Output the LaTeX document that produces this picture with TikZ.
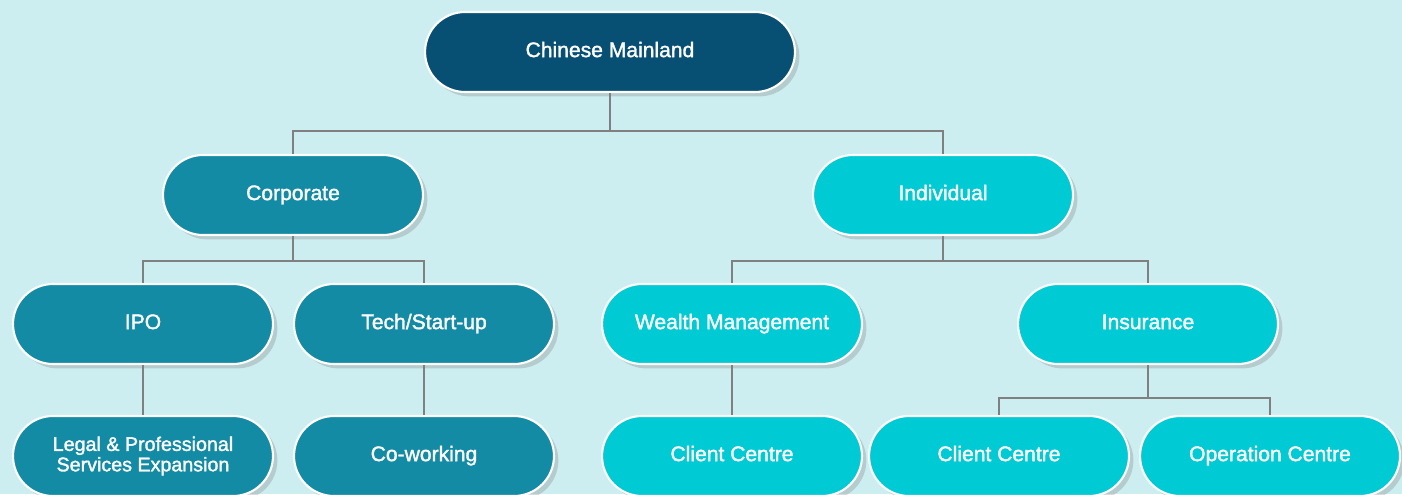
\documentclass[tikz,border=0pt]{standalone}
\usepackage{fontspec}
\setmainfont{Liberation Sans}
\newfontfamily\boxfont{Liberation Sans}[FakeBold=1.6]
\usetikzlibrary{positioning, shadows}
\definecolor{bgcyan}{HTML}{CCEEF0}
\definecolor{navy}{HTML}{084F74}
\definecolor{teal}{HTML}{138BA5}
\definecolor{aqua}{HTML}{00CAD4}
\definecolor{linkgray}{HTML}{808080}

\begin{document}
\begin{tikzpicture}[x=0.02cm, y=-0.02cm,
      boxbase/.style={rectangle, rounded corners=0.8cm, draw=white, line width=1.2pt,
        minimum width=5.2cm, minimum height=1.6cm, inner sep=2pt, align=center,
        text=white, font=\boxfont\fontsize{12}{12}\selectfont,
        drop shadow={opacity=0.3, shadow xshift=2.5pt, shadow yshift=-2.5pt}},
      box/.style={boxbase, text height=1.7ex, text depth=0.6ex},
      top/.style={box, fill=navy, minimum width=7.4cm},
      corp/.style={box, fill=teal},
      indiv/.style={box, fill=aqua},
      link/.style={draw=linkgray, line width=1.1pt}]
      \fill[bgcyan] (0,0) rectangle (1402,494);
      \useasboundingbox (0,0) rectangle (1402,494);
      % top level
      \node[top] (mainland) at (610,52) {Chinese Mainland};
      % corporate side
      \node[corp] (corporate) at (293,195) {Corporate};
      \node[corp] (ipo) at (143,324) {IPO};
      \node[corp] (tech) at (424,324) {Tech/Start-up};
      \node[boxbase, fill=teal, font=\boxfont\fontsize{11.2}{11.6}\selectfont] (legal) at (143,456)
        {Legal \& Professional\\Services Expansion};
      \node[corp] (cowork) at (424,456) {Co-working};
      % individual side
      \node[indiv] (individual) at (943,195) {Individual};
      \node[indiv] (wealth) at (732,324) {Wealth Management};
      \node[indiv] (insurance) at (1148,324) {Insurance};
      \node[indiv] (client_a) at (732,456) {Client Centre};
      \node[indiv] (client_b) at (999,456) {Client Centre};
      \node[indiv] (operation) at (1270,456) {Operation Centre};
      % connectors
      \path[link] (mainland.south) -- ++(0,38) -| (corporate.north);
      \path[link] (mainland.south) -- ++(0,38) -| (individual.north);
      \path[link] (corporate.south) -- ++(0,25) -| (ipo.north);
      \path[link] (corporate.south) -- ++(0,25) -| (tech.north);
      \path[link] (ipo) -- (legal);
      \path[link] (tech) -- (cowork);
      \path[link] (individual.south) -- ++(0,25) -| (wealth.north);
      \path[link] (individual.south) -- ++(0,25) -| (insurance.north);
      \path[link] (wealth) -- (client_a);
      \path[link] (insurance.south) -- ++(0,33) -| (client_b.north);
      \path[link] (insurance.south) -- ++(0,33) -| (operation.north);
\end{tikzpicture}
\end{document}
